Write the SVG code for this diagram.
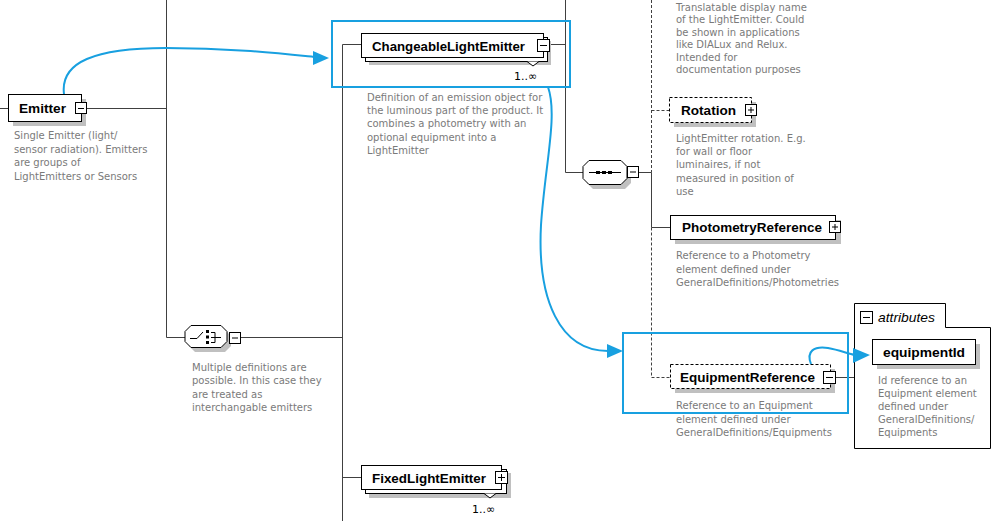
<svg xmlns="http://www.w3.org/2000/svg" width="1004" height="521" viewBox="0 0 1004 521">
<style>
.box{fill:#fff;stroke:#000;stroke-width:1}
.dbox{fill:#fff;stroke:#000;stroke-width:1;stroke-dasharray:3,2}
.sh{fill:#c0c0c0}
.ln{stroke:#404040;stroke-width:1;fill:none}
.dln{stroke:#404040;stroke-width:1;fill:none;stroke-dasharray:3,2}
.btn{fill:#fff;stroke:#000;stroke-width:1}
.bl{stroke:#000;stroke-width:1}
.lbl{font-family:"Liberation Sans",Arial,sans-serif;font-weight:bold;font-size:13px;fill:#000}
.desc{font-family:"DejaVu Sans",Verdana,sans-serif;font-size:10px;fill:#7a7a7a}
.card{font-family:"DejaVu Sans",Verdana,sans-serif;font-size:11px;fill:#000}
.blue{stroke:#18a0e0;stroke-width:2;fill:none}
.bluef{fill:#18a0e0}
</style>
<rect width="1004" height="521" fill="#fff"/>
<g id="connectors">
<path class="ln" d="M0,108.5H8M86,108.5H166.5M166.5,0V337.5H185M240,337.5H342.5M342.5,44.5V521M342.5,44.5H361M342.5,477.5H361M549,44.5H565.5M565.5,0V172.5H583M638,172.5H651.5M651.5,172.5V227.5H670M836,377.5H854"/>
<path class="dln" d="M651.5,0V172.5M651.5,110.5H669M651.5,227.5V377.5H670"/>
</g>
<g id="Emitter">
<rect class="sh" x="13" y="99" width="73" height="27"/>
<rect class="box" x="8.5" y="94.5" width="73" height="27"/>
<text class="lbl" x="19" y="113" textLength="47" lengthAdjust="spacingAndGlyphs">Emitter</text>
<rect class="btn" x="75.5" y="102.5" width="11" height="11"/>
<path class="bl" d="M78,108.5H84"/>
<text class="desc" x="14" y="139">Single Emitter (light/</text>
<text class="desc" x="14" y="152.5">sensor radiation). Emitters</text>
<text class="desc" x="14" y="166">are groups of</text>
<text class="desc" x="14" y="179.5">LightEmitters or Sensors</text>
</g>
<g id="choice">
<polygon class="sh" points="195,330 225,330 231,336 231,346 225,352 195,352 189,346 189,336"/>
<polygon class="box" points="191,325.5 221,325.5 227,331.5 227,341.5 221,347.5 191,347.5 185,341.5 185,331.5"/>
<path class="bl" fill="none" d="M190,338.5H197L203,332M211,332.5H215V342.5H211M211,337.5H221"/>
<rect x="206" y="330" width="3" height="3" fill="#000"/>
<rect x="206" y="335.5" width="3" height="3" fill="#000"/>
<rect x="206" y="341" width="3" height="3" fill="#000"/>
<rect class="btn" x="229.5" y="332.5" width="11" height="11"/>
<path class="bl" d="M232,338H238"/>
<text class="desc" x="192" y="370.5">Multiple definitions are</text>
<text class="desc" x="192" y="384">possible. In this case they</text>
<text class="desc" x="192" y="397.5">are treated as</text>
<text class="desc" x="192" y="411">interchangable emitters</text>
</g>
<g id="ChangeableLightEmitter">
<rect class="sh" x="369" y="41" width="182" height="24"/>
<rect class="box" x="365.5" y="37.5" width="182" height="24"/>
<rect class="box" x="361.5" y="33.5" width="182" height="24"/>
<polyline points="527,61.5 533,66 539,61.5" fill="#fff" stroke="#000"/>
<text class="lbl" x="372" y="50.5" textLength="153" lengthAdjust="spacingAndGlyphs">ChangeableLightEmitter</text>
<rect class="btn" x="537.5" y="39.5" width="12" height="12"/>
<path class="bl" d="M540,45.5H547"/>
<text class="card" x="514" y="80">1..∞</text>
<text class="desc" x="367" y="100.5">Definition of an emission object for</text>
<text class="desc" x="367" y="114">the luminous part of the product. It</text>
<text class="desc" x="367" y="127">combines a photometry with an</text>
<text class="desc" x="367" y="140.5">optional equipment into a</text>
<text class="desc" x="367" y="154">LightEmitter</text>
</g>
<g id="Name">
<text class="desc" x="676" y="10.5">Translatable display name</text>
<text class="desc" x="676" y="23">of the LightEmitter. Could</text>
<text class="desc" x="676" y="35.5">be shown in applications</text>
<text class="desc" x="676" y="48">like DIALux and Relux.</text>
<text class="desc" x="676" y="60.5">Intended for</text>
<text class="desc" x="676" y="73">documentation purposes</text>
</g>
<g id="Rotation">
<rect class="sh" x="674" y="102" width="82" height="25"/>
<rect class="dbox" x="669.5" y="97.5" width="82" height="25"/>
<text class="lbl" x="681" y="114.5" textLength="55" lengthAdjust="spacingAndGlyphs">Rotation</text>
<rect class="btn" x="745.5" y="104.5" width="11" height="11"/>
<path class="bl" d="M748,110H754M751,107V113"/>
<text class="desc" x="676" y="141.5">LightEmitter rotation. E.g.</text>
<text class="desc" x="676" y="155">for wall or floor</text>
<text class="desc" x="676" y="168">luminaires, if not</text>
<text class="desc" x="676" y="181.5">measured in position of</text>
<text class="desc" x="676" y="194.5">use</text>
</g>
<g id="sequence">
<polygon class="sh" points="593,165 625,165 631,171 631,183 625,189 593,189 587,183 587,171"/>
<polygon class="box" points="589,160.5 621,160.5 627,166.5 627,178.5 621,184.5 589,184.5 583,178.5 583,166.5"/>
<path class="bl" d="M589,172.5H621"/>
<rect x="596" y="171" width="4" height="3" fill="#000"/>
<rect x="602" y="171" width="4" height="3" fill="#000"/>
<rect x="608" y="171" width="4" height="3" fill="#000"/>
<rect class="btn" x="627.5" y="166.5" width="11" height="11"/>
<path class="bl" d="M630,172H636"/>
</g>
<g id="PhotometryReference">
<rect class="sh" x="675" y="220" width="166" height="24"/>
<rect class="box" x="670.5" y="215.5" width="165" height="24"/>
<text class="lbl" x="682" y="232" textLength="140" lengthAdjust="spacingAndGlyphs">PhotometryReference</text>
<rect class="btn" x="829.5" y="221.5" width="11" height="11"/>
<path class="bl" d="M832,227H838M835,224V230"/>
<text class="desc" x="676" y="259">Reference to a Photometry</text>
<text class="desc" x="676" y="272.5">element defined under</text>
<text class="desc" x="676" y="286">GeneralDefinitions/Photometries</text>
</g>
<g id="EquipmentReference">
<rect class="sh" x="675" y="369" width="160" height="24"/>
<rect class="dbox" x="670.5" y="364.5" width="160" height="24"/>
<text class="lbl" x="680" y="382" textLength="135" lengthAdjust="spacingAndGlyphs">EquipmentReference</text>
<rect class="btn" x="823.5" y="371.5" width="12" height="12"/>
<path class="bl" d="M826,377.5H833"/>
<text class="desc" x="676" y="409">Reference to an Equipment</text>
<text class="desc" x="676" y="422.5">element defined under</text>
<text class="desc" x="676" y="436">GeneralDefinitions/Equipments</text>
</g>
<g id="attributes">
<path class="box" fill="#fff" d="M854.5,303.5H945.5V327.5H990.5V448.5H854.5Z"/>
<rect class="btn" x="860.5" y="311.5" width="12" height="12"/>
<path class="bl" d="M863,317.5H870"/>
<text x="878" y="322" font-family="'Liberation Sans',Arial,sans-serif" font-style="italic" font-size="13px" fill="#000" textLength="57" lengthAdjust="spacingAndGlyphs">attributes</text>
</g>
<g id="equipmentId">
<rect class="sh" x="877" y="344" width="103" height="25"/>
<rect class="box" x="872.5" y="339.5" width="103" height="25"/>
<text class="lbl" x="883" y="357" textLength="82" lengthAdjust="spacingAndGlyphs">equipmentId</text>
<text class="desc" x="878" y="384">Id reference to an</text>
<text class="desc" x="878" y="397">Equipment element</text>
<text class="desc" x="878" y="410">defined under</text>
<text class="desc" x="878" y="423">GeneralDefinitions/</text>
<text class="desc" x="878" y="436">Equipments</text>
</g>
<g id="FixedLightEmitter">
<rect class="sh" x="369" y="473" width="142" height="25"/>
<rect class="box" x="365.5" y="469.5" width="141" height="24"/>
<rect class="box" x="361.5" y="465.5" width="140" height="24"/>
<polyline points="484,493.5 490,498 496,493.5" fill="#fff" stroke="#000"/>
<text class="lbl" x="372" y="482.5" textLength="114" lengthAdjust="spacingAndGlyphs">FixedLightEmitter</text>
<rect class="btn" x="495.5" y="471.5" width="12" height="12"/>
<path class="bl" d="M498,477.5H505M501.5,474V481"/>
<text class="card" x="472" y="513">1..∞</text>
</g>
<g id="highlights">
<rect class="blue" x="332" y="21" width="238" height="66"/>
<rect class="blue" x="623" y="333" width="225" height="80"/>
<path class="blue" d="M64,94C60,62 95,48 166,48C230,48 275,53 314,57"/>
<polygon class="bluef" points="329,58 313,51 313,65"/>
<path class="blue" d="M548,87C558,115 545,165 541,225C537,300 560,351 608,351"/>
<polygon class="bluef" points="623,351 607,344 607,358"/>
<path class="blue" d="M811,364C806,351 814,346 828,348C840,350 848,354 855,355"/>
<polygon class="bluef" points="870,355 853,348 853,363"/>
</g>
</svg>
